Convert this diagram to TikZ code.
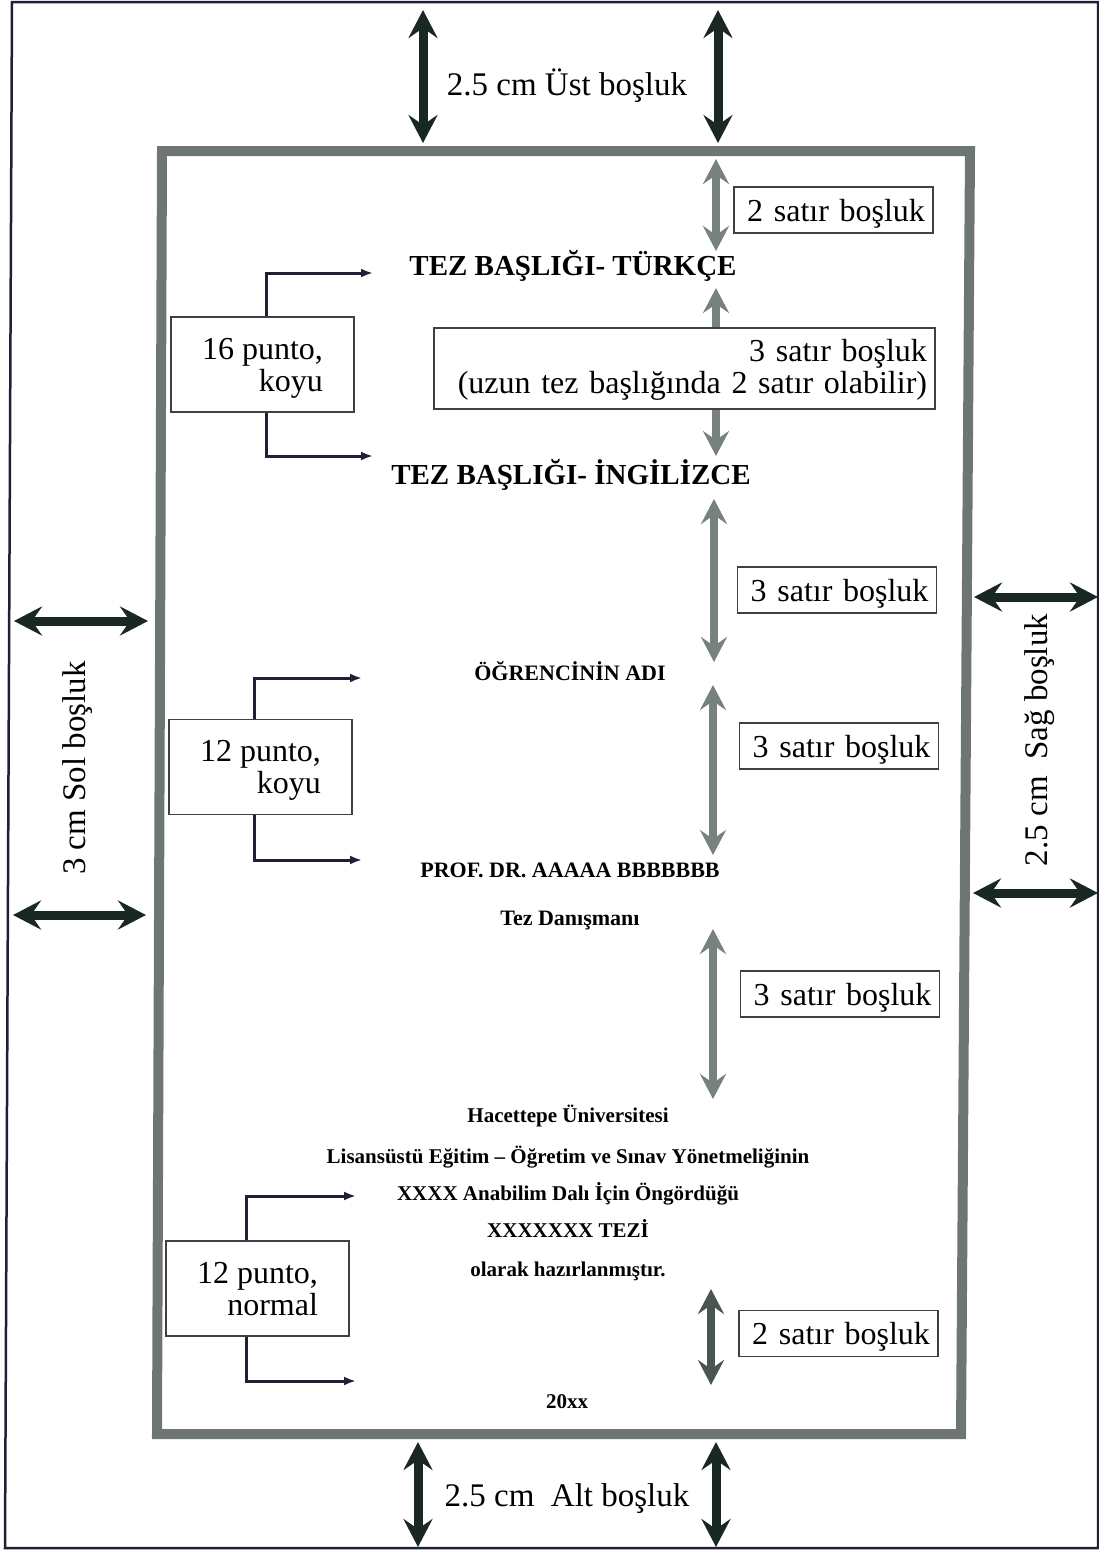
\documentclass[tikz,border=0pt]{standalone}
\usepackage{fontspec}
\setmainfont{Liberation Serif}
\usepackage{tikz}
\usetikzlibrary{
  arrows.meta,%
  positioning,%
  calc
}
\definecolor{cerceve}{HTML}{6E7674}
\definecolor{koyuok}{HTML}{1A2824}
\definecolor{griok}{HTML}{77817F}
\definecolor{koyugriok}{HTML}{485552}
\definecolor{kosecizgi}{HTML}{1D2036}
\tikzset{>=latex}
\tikzset{
  marjok/.style={koyuok, line width=9pt,
    {Stealth[length=28pt,width=29pt,inset=10pt]}-{Stealth[length=28pt,width=29pt,inset=10pt]}},
  satirok/.style={griok, line width=8pt,
    {Stealth[length=25pt,width=26pt,inset=9pt]}-{Stealth[length=25pt,width=26pt,inset=9pt]}},
  kose/.style={kosecizgi, line width=3pt, -{Latex[length=12pt,width=9pt]}},
  marjyazi/.style={font=\fontsize{33}{36}\selectfont, inner sep=0pt},
  baslik/.style={font=\fontsize{29}{32}\selectfont\bfseries, anchor=base, inner sep=0pt},
  satir/.style={font=\fontsize{22}{24}\selectfont\bfseries, anchor=base, inner sep=0pt},
  metin/.style={satir, font=\fontsize{21}{24}\selectfont\bfseries},
  kutu/.style={draw=black!75, line width=1.2pt, fill=white, align=right,
    font=\fontsize{32}{32}\selectfont, inner xsep=8pt, inner ysep=0pt, text depth=0pt},
  sagkutu/.style={kutu, text width=183pt, minimum height=46pt},
  solkutu/.style={kutu, minimum width=183pt, minimum height=95pt}
}

\begin{document}
\begin{tikzpicture}[x=1pt, y=-1pt]
  \useasboundingbox (0,0) rectangle (1099,1551);
  % kagit ve sayfa
  \draw[kosecizgi, line width=2.5pt] (12,2) -- (1098,2) -- (1098,1548) -- (5,1548) -- cycle;
  \draw[cerceve, line width=10pt] (162,151) -- (970,151) -- (961,1434) -- (157,1434) -- cycle;

  % kenar bosluklari
  \coordinate (ustA1) at (423,10);   \coordinate (ustA2) at (423,143);
  \coordinate (ustB1) at (718,10);   \coordinate (ustB2) at (718,143);
  \coordinate (altA1) at (418,1442); \coordinate (altA2) at (418,1547);
  \coordinate (altB1) at (716,1442); \coordinate (altB2) at (716,1547);
  \coordinate (solA1) at (14,621);   \coordinate (solA2) at (148,621);
  \coordinate (solB1) at (13,915);   \coordinate (solB2) at (146,915);
  \coordinate (sagA1) at (974,597);  \coordinate (sagA2) at (1098,597);
  \coordinate (sagB1) at (973,893);  \coordinate (sagB2) at (1098,893);
  \draw[marjok] (ustA1) -- (ustA2);
  \draw[marjok] (ustB1) -- (ustB2);
  \draw[marjok] (altA1) -- (altA2);
  \draw[marjok] (altB1) -- (altB2);
  \draw[marjok] (solA1) -- (solA2);
  \draw[marjok] (solB1) -- (solB2);
  \draw[marjok] (sagA1) -- (sagA2);
  \draw[marjok] (sagB1) -- (sagB2);
  \node[marjyazi, anchor=base] (ust) at (567,95) {2.5 cm Üst boşluk};
  \node[marjyazi, anchor=base] (alt) at (567,1506) {2.5 cm\ \ Alt boşluk};
  \node[marjyazi, rotate=90] (sol) at (78,768) {3 cm Sol boşluk};
  \node[marjyazi, rotate=90] (sag) at (1040,740) {2.5 cm\ \ Sağ boşluk};

  % satir bosluklari
  \coordinate (s1a) at (716,159);  \coordinate (s1b) at (716,251);
  \coordinate (s2a) at (716,288);  \coordinate (s2b) at (716,456);
  \coordinate (s3a) at (714,499);  \coordinate (s3b) at (714,662);
  \coordinate (s4a) at (713,685);  \coordinate (s4b) at (713,855);
  \coordinate (s5a) at (713,929);  \coordinate (s5b) at (713,1099);
  \coordinate (s6a) at (711,1289); \coordinate (s6b) at (711,1385);
  \draw[satirok] (s1a) -- (s1b);
  \draw[satirok] (s2a) -- (s2b);
  \draw[satirok] (s3a) -- (s3b);
  \draw[satirok] (s4a) -- (s4b);
  \draw[satirok] (s5a) -- (s5b);
  \draw[satirok, koyugriok] (s6a) -- (s6b);

  \node[sagkutu] (b1) at (833.5,210) {2 satır boşluk};
  \node[kutu, text width=485pt, minimum height=81pt, text depth=36pt] (b2) at (684.5,368.5)
    {3 satır boşluk\\(uzun tez başlığında 2 satır olabilir)};
  \node[sagkutu] (b3) at (837,590) {3 satır boşluk};
  \node[sagkutu] (b4) at (839,746) {3 satır boşluk};
  \node[sagkutu] (b5) at (840,994) {3 satır boşluk};
  \node[sagkutu] (b6) at (838.5,1333.5) {2 satır boşluk};

  % sayfa metni
  \node[baslik] (tr) at (573,275) {TEZ BAŞLIĞI- TÜRKÇE};
  \node[baslik] (en) at (571,484) {TEZ BAŞLIĞI- İNGİLİZCE};
  \node[satir] (ogr) at (570,680) {ÖĞRENCİNİN ADI};
  \node[satir] (prof) at (570,877) {PROF. DR. AAAAA BBBBBBB};
  \node[satir] (dan) at (570,925) {Tez Danışmanı};
  \node[metin] (uni) at (568,1122) {Hacettepe Üniversitesi};
  \node[metin] (yon) at (568,1163) {Lisansüstü Eğitim -- Öğretim ve Sınav Yönetmeliğinin};
  \node[metin] (abd) at (568,1200) {XXXX Anabilim Dalı İçin Öngördüğü};
  \node[metin] (tez) at (568,1237) {XXXXXXX TEZİ};
  \node[metin] (haz) at (568,1276) {olarak hazırlanmıştır.};
  \node[metin] (yil) at (567,1408) {20xx};

  % punto kutulari
  \node[solkutu] (k16) at (262.5,364.5) {16 punto,\\koyu};
  \node[solkutu] (k12) at (260.5,767) {12 punto,\\koyu};
  \node[solkutu] (k12n) at (257.5,1288.5) {12 punto,\\normal};
  \coordinate (k16u) at (373,273);  \coordinate (k16a) at (373,456);
  \coordinate (k12u) at (362,678);  \coordinate (k12a) at (362,860);
  \coordinate (k12nu) at (356,1196); \coordinate (k12na) at (356,1381);
  \draw[kose] ([xshift=4pt]k16.north) |- (k16u);
  \draw[kose] ([xshift=4pt]k16.south) |- (k16a);
  \draw[kose] ([xshift=-6pt]k12.north) |- (k12u);
  \draw[kose] ([xshift=-6pt]k12.south) |- (k12a);
  \draw[kose] ([xshift=-11pt]k12n.north) |- (k12nu);
  \draw[kose] ([xshift=-11pt]k12n.south) |- (k12na);
\end{tikzpicture}
\end{document}
